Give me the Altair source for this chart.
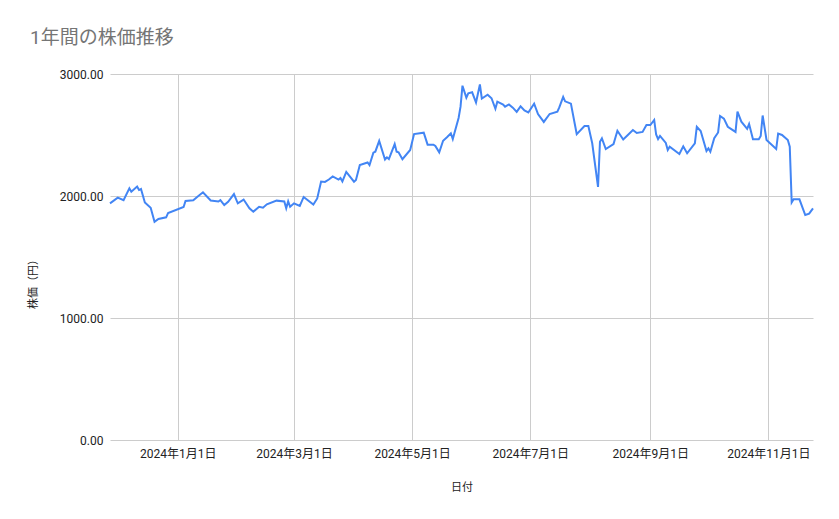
import altair as alt
import pandas as pd

# 株価データ
dates = [
    "2023-11-27", "2023-12-01", "2023-12-04", "2023-12-07", "2023-12-08",
    "2023-12-11", "2023-12-12", "2023-12-13", "2023-12-15", "2023-12-18",
    "2023-12-20", "2023-12-22", "2023-12-26", "2023-12-27",
    "2024-01-04", "2024-01-05", "2024-01-09", "2024-01-11", "2024-01-14",
    "2024-01-18", "2024-01-22", "2024-01-23", "2024-01-25", "2024-01-27",
    "2024-01-30", "2024-02-01", "2024-02-04", "2024-02-07", "2024-02-09",
    "2024-02-12", "2024-02-14", "2024-02-16", "2024-02-21", "2024-02-25",
    "2024-02-26", "2024-02-27", "2024-02-28", "2024-03-01", "2024-03-04",
    "2024-03-06", "2024-03-11", "2024-03-13", "2024-03-15", "2024-03-17",
    "2024-03-19", "2024-03-21", "2024-03-24", "2024-03-25", "2024-03-26",
    "2024-03-28", "2024-04-01", "2024-04-02", "2024-04-04", "2024-04-08",
    "2024-04-09", "2024-04-11", "2024-04-12", "2024-04-14", "2024-04-17",
    "2024-04-18", "2024-04-19", "2024-04-22", "2024-04-23", "2024-04-24",
    "2024-04-26", "2024-04-30", "2024-05-02", "2024-05-07", "2024-05-09",
    "2024-05-12", "2024-05-13", "2024-05-15", "2024-05-17", "2024-05-19",
    "2024-05-21", "2024-05-22", "2024-05-25", "2024-05-26", "2024-05-27",
    "2024-05-29", "2024-05-30", "2024-06-01", "2024-06-03", "2024-06-05",
    "2024-06-06", "2024-06-09", "2024-06-11", "2024-06-13", "2024-06-14",
    "2024-06-17", "2024-06-18", "2024-06-20", "2024-06-22", "2024-06-24",
    "2024-06-26", "2024-06-28", "2024-06-30", "2024-07-03", "2024-07-05",
    "2024-07-08", "2024-07-11", "2024-07-15", "2024-07-16", "2024-07-18",
    "2024-07-19", "2024-07-22", "2024-07-24", "2024-07-25", "2024-07-29",
    "2024-07-31", "2024-08-02", "2024-08-05", "2024-08-06", "2024-08-07",
    "2024-08-09", "2024-08-13", "2024-08-15", "2024-08-18", "2024-08-20",
    "2024-08-23", "2024-08-25", "2024-08-28", "2024-08-30", "2024-09-01",
    "2024-09-03", "2024-09-04", "2024-09-05", "2024-09-06", "2024-09-09",
    "2024-09-10", "2024-09-11", "2024-09-16", "2024-09-18", "2024-09-20",
    "2024-09-24", "2024-09-25", "2024-09-27", "2024-09-30", "2024-10-01",
    "2024-10-02", "2024-10-04", "2024-10-06", "2024-10-07", "2024-10-09",
    "2024-10-11", "2024-10-15", "2024-10-16", "2024-10-18", "2024-10-21",
    "2024-10-22", "2024-10-24", "2024-10-27", "2024-10-28", "2024-10-29",
    "2024-10-31", "2024-11-05", "2024-11-06", "2024-11-08", "2024-11-11",
    "2024-11-12", "2024-11-13", "2024-11-14", "2024-11-17", "2024-11-20",
    "2024-11-22", "2024-11-24",
]

prices = [
    1940, 1986, 1965, 2063, 2035,
    2078, 2049, 2057, 1947, 1904,
    1789, 1812, 1825, 1861,
    1910, 1959, 1965, 1992, 2030,
    1963, 1955, 1967, 1926, 1953,
    2016, 1940, 1971, 1899, 1871,
    1912, 1904, 1932, 1962, 1955,
    1899, 1957, 1912, 1940, 1918,
    1992, 1930, 1980, 2119, 2115,
    2135, 2160, 2135, 2148, 2119,
    2197, 2117, 2131, 2254, 2275,
    2254, 2355, 2363, 2451, 2299,
    2317, 2303, 2426, 2363, 2358,
    2302, 2377, 2508, 2519, 2421,
    2421, 2410, 2358, 2453, 2481,
    2514, 2467, 2639, 2732, 2904,
    2806, 2842, 2850, 2766, 2914,
    2799, 2830, 2801, 2715, 2773,
    2750, 2732, 2750, 2724, 2689,
    2735, 2701, 2685, 2757, 2672,
    2607, 2672, 2691, 2726, 2812,
    2776, 2757, 2590, 2507, 2574,
    2574, 2432, 2074, 2445, 2473,
    2385, 2426, 2535, 2463, 2494,
    2541, 2516, 2525, 2582, 2582,
    2623, 2504, 2467, 2492, 2435,
    2377, 2404, 2344, 2407, 2350,
    2432, 2568, 2533, 2369, 2391,
    2363, 2473, 2521, 2656, 2634,
    2568, 2525, 2691, 2609, 2551,
    2590, 2465, 2465, 2492, 2660,
    2459, 2385, 2511, 2500, 2459,
    2404, 1947, 1973, 1973, 1844,
    1855, 1899,
]

y_ticks = [0, 1000, 2000, 3000]
x_tick_months = [1, 3, 5, 7, 9, 11]

df = pd.DataFrame({"date": dates, "price": prices})

FONT = "Roboto, 'Noto Sans CJK JP', sans-serif"
LINE_COLOR = "#4285f4"
GRID_COLOR = "#cccccc"
TEXT_COLOR = "#222222"

x_ticks = [alt.DateTime(year=2024, month=m, date=1, utc=True) for m in x_tick_months]

chart = alt.Chart(df).mark_line(
    color=LINE_COLOR,
    strokeWidth=2
).encode(
    x=alt.X(
        "date:T",
        title="日付",
        scale=alt.Scale(type="utc", nice=False),
        axis=alt.Axis(
            values=x_ticks,
            labelExpr="utcFormat(datum.value, '%Y年%-m月%-d日')",
            labelPadding=8,
            domain=False,
            ticks=False,
            titleY=47,
            titleBaseline="middle",
        ),
    ),
    y=alt.Y(
        "price:Q",
        title="株価（円）",
        scale=alt.Scale(domain=[0, 3000], nice=False),
        axis=alt.Axis(
            values=y_ticks,
            format=".2f",
            labelPadding=7,
            domain=False,
            ticks=False,
            titleX=-77,
            titleY=207,
            titleBaseline="middle",
        ),
    ),
).properties(
    title=alt.Title(
        "1年間の株価推移",
        anchor="start",
        frame="group",
        fontSize=19,
        fontWeight="normal",
        color="#757575",
        font=FONT,
        dx=-80,
        offset=20,
    ),
    width=703,
    height=366,
    autosize="none",
    background="white",
    padding={"left": 102, "top": 66, "right": 18, "bottom": 63},
).configure_view(
    stroke=None
).configure_axis(
    grid=True,
    gridColor=GRID_COLOR,
    gridWidth=1,
    labelFont=FONT,
    labelFontSize=12,
    labelColor=TEXT_COLOR,
    titleFont=FONT,
    titleFontSize=11,
    titleFontWeight="normal",
    titleColor=TEXT_COLOR,
)

chart.save("out.html", embed_options={"renderer": "svg", "actions": False})
